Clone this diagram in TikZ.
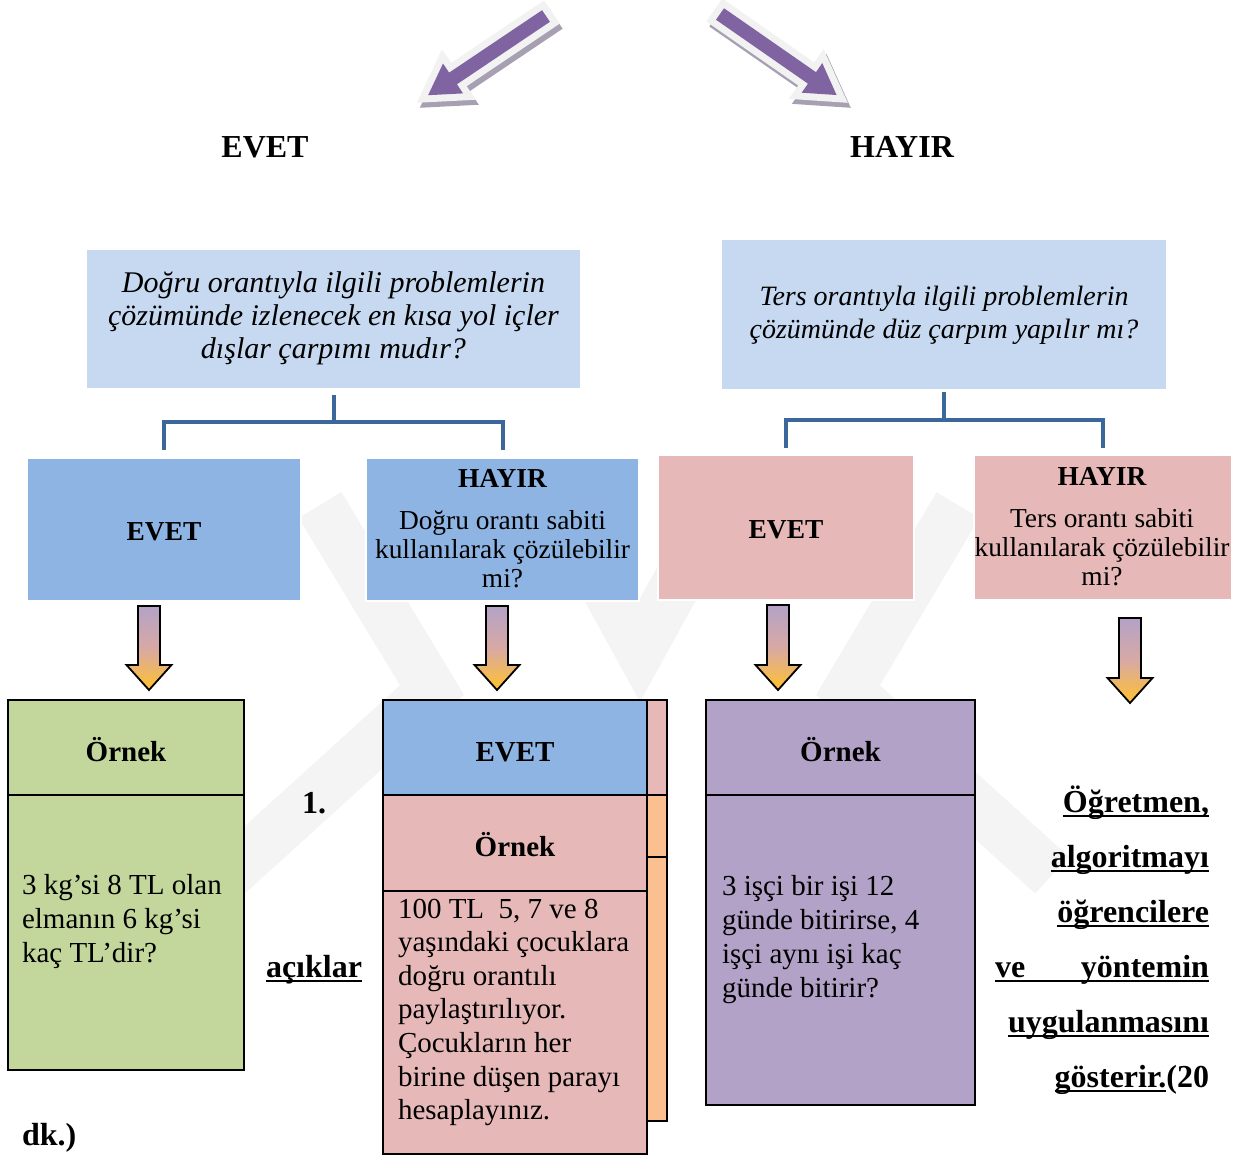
\documentclass[tikz,border=0pt]{standalone}
\usepackage{fontspec}
\setmainfont{Liberation Serif}
\usetikzlibrary{calc}

\definecolor{qblue}{HTML}{C6D9F1}
\definecolor{midblue}{HTML}{8EB4E3}
\definecolor{rose}{HTML}{E6B9B8}
\definecolor{sage}{HTML}{C3D69B}
\definecolor{lilac}{HTML}{B3A2C7}
\definecolor{peach}{HTML}{FAC090}
\definecolor{bracketblue}{HTML}{3C679A}
\definecolor{arrowpurple}{HTML}{8064A2}
\definecolor{arrowshadow}{HTML}{A7A0B3}
\definecolor{arrowrim}{HTML}{F2F2F2}
\definecolor{dusk}{HTML}{D8A9A4}
\definecolor{gold}{HTML}{FFC12E}
\definecolor{wmgray}{HTML}{F4F4F4}

% stacked lines whose baseline is the first row
\newcommand\mlines[2][l]{\begin{tabular}[t]{@{}#1@{}}#2\end{tabular}}
% underline at a fixed depth below the baseline
\newcommand\ulbar[1]{\setbox0\hbox{#1}\rlap{\rule[-2.6pt]{\wd0}{1pt}}\box0}
% block arrow pointing down: centre x, top y, tip y
\newcommand\gradarrow[3]{%
  \shadedraw[garrow] (#1-11,#2) -- (#1+11,#2) -- (#1+11,#3-25) -- (#1+22.5,#3-25)
    -- (#1,#3) -- (#1-22.5,#3-25) -- (#1-11,#3-25) -- cycle;}
% broad arrow with rim and drop shadow: tail point, direction angle
\newcommand\arrowoutline{(0,-7) -- (112,-7) -- (112,-18) -- (142,0) -- (112,18) -- (112,7) -- (0,7) -- cycle}
\newcommand\bigarrow[2]{%
  \begin{scope}[shift={#1}, xshift=1.5pt, yshift=-2.5pt, rotate=#2]
    \filldraw[arrowshadow, line width=7pt, line join=miter] \arrowoutline;
  \end{scope}
  \begin{scope}[shift={#1}, rotate=#2]
    \filldraw[arrowrim, line width=7pt, line join=miter] \arrowoutline;
    \fill[arrowpurple] \arrowoutline;
  \end{scope}}

\begin{document}
\begin{tikzpicture}[x=0.5pt, y=-0.5pt,
  every node/.style={inner sep=0pt, outer sep=0pt},
  box/.style={draw=black, line width=1pt},
  flat/.style={draw=white, line width=0.8pt},
  bracket/.style={draw=bracketblue, line width=2pt},
  garrow/.style={draw=black, line width=0.9pt, top color=lilac, bottom color=gold, middle color=dusk},
  wm/.style={draw=wmgray, line width=25pt, line join=miter},
  toplbl/.style={font=\fontsize{16}{19}\selectfont\bfseries, anchor=base},
  quest/.style={font=\fontsize{15}{16.5}\selectfont\itshape, anchor=base},
  rowtxt/.style={font=\fontsize{13.7}{14.5}\selectfont, anchor=base},
  rowhead/.style={font=\fontsize{13.7}{14.5}\selectfont\bfseries, anchor=base},
  head/.style={font=\fontsize{14.5}{17}\selectfont\bfseries, anchor=base},
  body/.style={font=\fontsize{14.5}{17}\selectfont, anchor=base west},
  note/.style={font=\fontsize{16}{27.5}\selectfont\bfseries}]

\path[use as bounding box] (0,0) rectangle (1236,1156);

% faint background emblem
\draw[wm] (320,505) -- (432,690) -- (228,875);
\draw[wm] (958,505) -- (848,690) -- (1052,875);
\draw[wm] (560,505) -- (640,650) -- (720,505);

% two broad arrows at the top
\bigarrow{(546,16)}{213.9}
\bigarrow{(720,14)}{-34.8}

\node[toplbl] (yes) at (265,157) {EVET};
\node[toplbl] (no) at (902,157) {HAYIR};

% question boxes
\node[fill=qblue, minimum width=246.5pt, minimum height=69pt] (q1) at (333.5,319) {};
\node[fill=qblue, minimum width=222pt, minimum height=74.5pt] (q2) at (944,314.5) {};
\node[quest] (q1t) at (333.5,292) {\mlines[c]{Doğru orantıyla ilgili problemlerin\\
  çözümünde izlenecek en kısa yol içler\\ dışlar çarpımı mudır?}};
\node[quest, font=\fontsize{14}{16.5}\selectfont\itshape] (q2t) at (944,305)
  {\mlines[c]{Ters orantıyla ilgili problemlerin\\ çözümünde düz çarpım yapılır mı?}};

% answer boxes
\node[flat, fill=midblue, minimum width=137pt, minimum height=71.5pt] (e1) at (164,529.5) {};
\node[flat, fill=midblue, minimum width=136.5pt, minimum height=71.5pt] (h1) at (502.5,529.5) {};
\node[flat, fill=rose, minimum width=128pt, minimum height=72.5pt] (e2) at (786,527.5) {};
\node[flat, fill=rose, minimum width=129pt, minimum height=72.5pt] (h2) at (1103,527.5) {};

\node[rowhead] (e1t) at (164,540) {EVET};
\node[rowhead] (h1h) at (502.5,487) {HAYIR};
\node[rowtxt] (h1t) at (502.5,529) {\mlines[c]{Doğru orantı sabiti\\ kullanılarak çözülebilir\\ mi?}};
\node[rowhead] (e2t) at (786,538) {EVET};
\node[rowhead] (h2h) at (1102,485) {HAYIR};
\node[rowtxt] (h2t) at (1102,527) {\mlines[c]{Ters orantı sabiti\\ kullanılarak çözülebilir\\ mi?}};

% brackets joining questions and answers
\draw[bracket] ($(q1.south)+(0,7)$) -- ++(0,27) -| ($(e1.north)+(0,-8)$);
\draw[bracket] ($(q1.south)+(0,34)$) -| ($(h1.north)+(0,-8)$);
\draw[bracket] ($(q2.south)+(0,3)$) -- ++(0,28) -| ($(e2.north)+(0,-7)$);
\draw[bracket] ($(q2.south)+(0,31)$) -| ($(h2.north)+(0,-7)$);

% downward arrows
\gradarrow{149}{606}{690}
\gradarrow{497}{606}{690}
\gradarrow{778}{605}{690}
\gradarrow{1130}{618}{703}

% example boxes
\node[box, fill=sage, minimum width=118pt, minimum height=47.5pt] (g1) at (126,747.5) {};
\node[box, fill=sage, minimum width=118pt, minimum height=137.5pt] (g2) at (126,932.5) {};

\node[box, fill=rose, minimum width=10pt, minimum height=47.5pt] (s1) at (657,747.5) {};
\node[box, fill=peach, minimum width=10pt, minimum height=31pt] (s2) at (657,826) {};
\node[box, fill=peach, minimum width=10pt, minimum height=132pt] (s3) at (657,989) {};
\node[box, fill=midblue, minimum width=132pt, minimum height=47.5pt] (m1) at (515,747.5) {};
\node[box, fill=rose, minimum width=132pt, minimum height=48pt] (m2) at (515,843) {};
\node[box, fill=rose, minimum width=132pt, minimum height=131.5pt] (m3) at (515,1022.5) {};

\node[box, fill=lilac, minimum width=134.5pt, minimum height=47.5pt] (p1) at (840.5,747.5) {};
\node[box, fill=lilac, minimum width=134.5pt, minimum height=155pt] (p2) at (840.5,950) {};

\node[head] (g1t) at (126,761) {Örnek};
\node[body] (g2t) at (22,894) {\mlines{3 kg’si 8 TL olan\\ elmanın 6 kg’si\\ kaç TL’dir?}};

\node[head] (m1t) at (515,761) {EVET};
\node[head] (m2t) at (515,856) {Örnek};
\node[body, font=\fontsize{14.5}{16.8}\selectfont] (m3t) at (398,918)
  {\mlines{100 TL\ \ 5, 7 ve 8\\ yaşındaki çocuklara\\ doğru orantılı\\ paylaştırılıyor.\\
  Çocukların her\\ birine düşen parayı\\ hesaplayınız.}};

\node[head] (p1t) at (840.5,761) {Örnek};
\node[body] (p2t) at (722,895) {\mlines{3 işçi bir işi 12\\ günde bitirirse, 4\\ işçi aynı işi kaç\\ günde bitirir?}};

% running text around the boxes
\node[note, anchor=base west] (num) at (302,813) {1.};
\node[note, anchor=base] (expl) at (314,977) {\ulbar{açıklar}};
\node[note, anchor=base east] (teach) at (1209,812) {\mlines[r]{\ulbar{Öğretmen,}\\
  \ulbar{algoritmayı}\\ \ulbar{öğrencilere}\\ \ulbar{\hbox to 107pt{ve\hfill yöntemin}}\\
  \ulbar{uygulanmasını}\\ \ulbar{gösterir.}(20}};
\node[note, anchor=base west] (mins) at (22,1145) {dk.)};

\end{tikzpicture}
\end{document}
